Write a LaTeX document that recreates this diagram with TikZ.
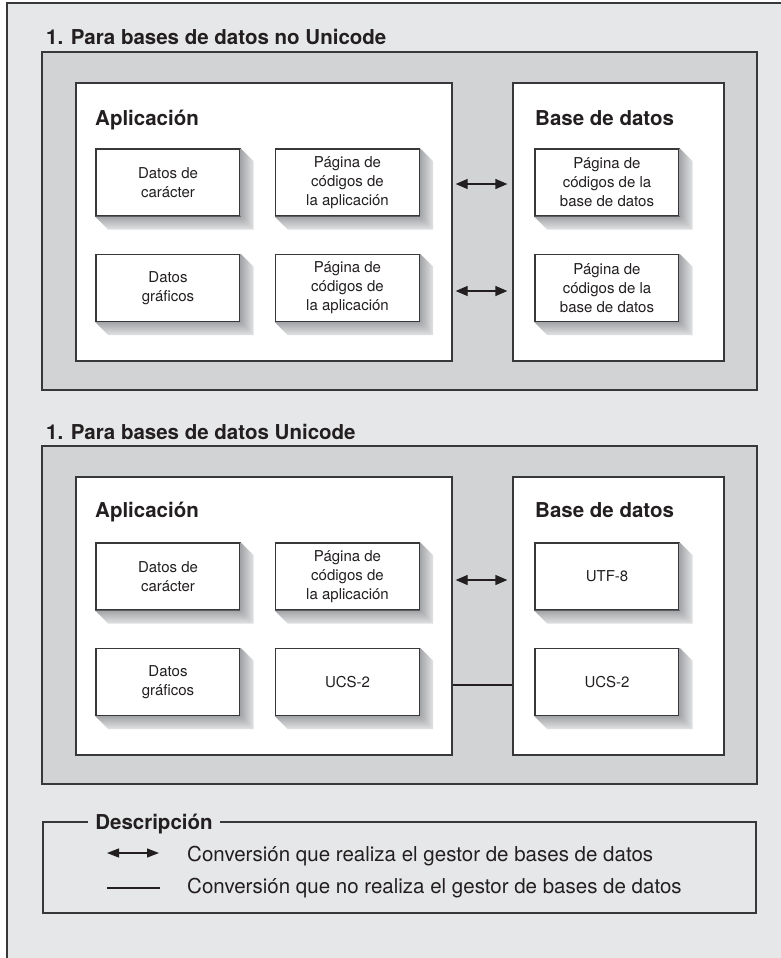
\documentclass[tikz,border=0pt]{standalone}
\usepackage{fontspec}
\setmainfont{TeX Gyre Heros}
\usetikzlibrary{arrows.meta}
\definecolor{bgc}{HTML}{E6E7E8}
\definecolor{secc}{HTML}{D1D3D4}
\definecolor{ink}{HTML}{231F20}
\definecolor{edge}{HTML}{38383A}
\definecolor{shd}{HTML}{A4A5A8}
\definecolor{shl}{HTML}{E2E3E4}
\tikzset{
  frame/.style={draw=edge, line width=1.3pt},
  bigbox/.style={draw=edge, line width=1.3pt, inner sep=0pt},
  inbox/.style={draw=edge, line width=1.3pt, fill=white, minimum width=144pt,
    minimum height=67pt, inner sep=0pt, align=center, text=ink,
    font=\fontsize{15}{19}\selectfont},
  title/.style={font=\fontsize{20.5}{24}\selectfont\bfseries, anchor=base west,
    inner sep=0pt, text=ink},
  legtext/.style={font=\fontsize{20.5}{24}\selectfont, anchor=base west,
    inner sep=0pt, text=ink},
  conv/.style={line width=1.3pt, draw=ink,
    {Triangle[length=12pt,width=10pt]}-{Triangle[length=12pt,width=10pt]}},
  noconv/.style={line width=1.1pt, draw=ink},
}
\newcommand\shadowof[1]{%
  \shade[left color=shd, right color=shl] (#1.north east) -- ++(13,13)
     -- ([shift={(13,13)}]#1.south east) -- (#1.south east) -- cycle;
  \shade[top color=shd, bottom color=shl] (#1.south west) -- ++(13,13)
     -- ([shift={(13,13)}]#1.south east) -- (#1.south east) -- cycle;}
\begin{document}
\begin{tikzpicture}[x=1pt, y=-1pt]
\useasboundingbox (0,0) rectangle (781,958);
\clip (0,0) rectangle (781,958);
\fill[white] (0,0) rectangle (781,958);
\draw[frame, fill=bgc] (7,3) rectangle (800,980);

% ---------------- Section 1 ----------------
\node[title] (t1) at (46,45) {1. Para bases de datos no Unicode};
\node[bigbox, fill=secc, minimum width=715pt, minimum height=338pt] (s1) at (399.5,221) {};
\node[bigbox, fill=white, minimum width=376pt, minimum height=278pt] (app1) at (264,222) {};
\node[bigbox, fill=white, minimum width=211pt, minimum height=278pt] (db1) at (618.5,222) {};
\node[title] (app1t) at (95,125) {Aplicación};
\node[title] (db1t) at (535,125) {Base de datos};

\node[inbox] (a11) at (168,182.5) {Datos de\\carácter};
\node[inbox] (a12) at (347.5,182.5) {Página de\\códigos de\\la aplicación};
\node[inbox] (a21) at (168,288) {Datos\\gráficos};
\node[inbox] (a22) at (347.5,288) {Página de\\códigos de\\la aplicación};
\node[inbox] (d11) at (607,182.5) {Página de\\códigos de la\\base de datos};
\node[inbox] (d21) at (607,288) {Página de\\códigos de la\\base de datos};
\foreach \n in {a11,a12,a21,a22,d11,d21}{\shadowof{\n}}

\coordinate (r1) at (0,184);
\coordinate (r2) at (0,291);
\draw[conv] ([xshift=3pt]app1.east |- r1) -- ([xshift=-5pt]db1.west |- r1);
\draw[conv] ([xshift=3pt]app1.east |- r2) -- ([xshift=-5pt]db1.west |- r2);

% ---------------- Section 2 ----------------
\node[title] (t2) at (46,439) {1. Para bases de datos Unicode};
\node[bigbox, fill=secc, minimum width=715pt, minimum height=338pt] (s2) at (399.5,615) {};
\node[bigbox, fill=white, minimum width=376pt, minimum height=278pt] (app2) at (264,616) {};
\node[bigbox, fill=white, minimum width=211pt, minimum height=278pt] (db2) at (618.5,616) {};
\node[title] (app2t) at (95,517) {Aplicación};
\node[title] (db2t) at (535,517) {Base de datos};

\node[inbox] (b11) at (168,576.5) {Datos de\\carácter};
\node[inbox] (b12) at (347.5,576.5) {Página de\\códigos de\\la aplicación};
\node[inbox] (b21) at (168,682) {Datos\\gráficos};
\node[inbox] (b22) at (347.5,682) {UCS-2};
\node[inbox] (e11) at (607,576.5) {UTF-8};
\node[inbox] (e21) at (607,682) {UCS-2};
\foreach \n in {b11,b12,b21,b22,e11,e21}{\shadowof{\n}}

\coordinate (r3) at (0,580);
\coordinate (r4) at (0,685);
\draw[conv] ([xshift=3pt]app2.east |- r3) -- ([xshift=-5pt]db2.west |- r3);
\draw[noconv] (app2.east |- r4) -- (db2.west |- r4);

% ---------------- Legend ----------------
\node[draw=edge, line width=1.2pt, minimum width=713pt, minimum height=91pt, inner sep=0pt] (leg) at (399.5,867.5) {};
\node[font=\fontsize{20.5}{24}\selectfont\bfseries, text=ink, fill=bgc,
      inner xsep=7pt, inner ysep=2pt, anchor=base] (legt) at (154,829) {Descripción};
\coordinate (la1) at (107,853);
\coordinate (la2) at (159,853);
\coordinate (lb1) at (107,888);
\coordinate (lb2) at (160,888);
\draw[line width=1.2pt, draw=ink,
  {Triangle[length=12pt,width=9pt]}-{Triangle[length=12pt,width=9pt]}] (la1) -- (la2);
\draw[noconv] (lb1) -- (lb2);
\node[legtext] (lt1) at (187,861) {Conversión que realiza el gestor de bases de datos};
\node[legtext] (lt2) at (187,893) {Conversión que no realiza el gestor de bases de datos};
\end{tikzpicture}
\end{document}
